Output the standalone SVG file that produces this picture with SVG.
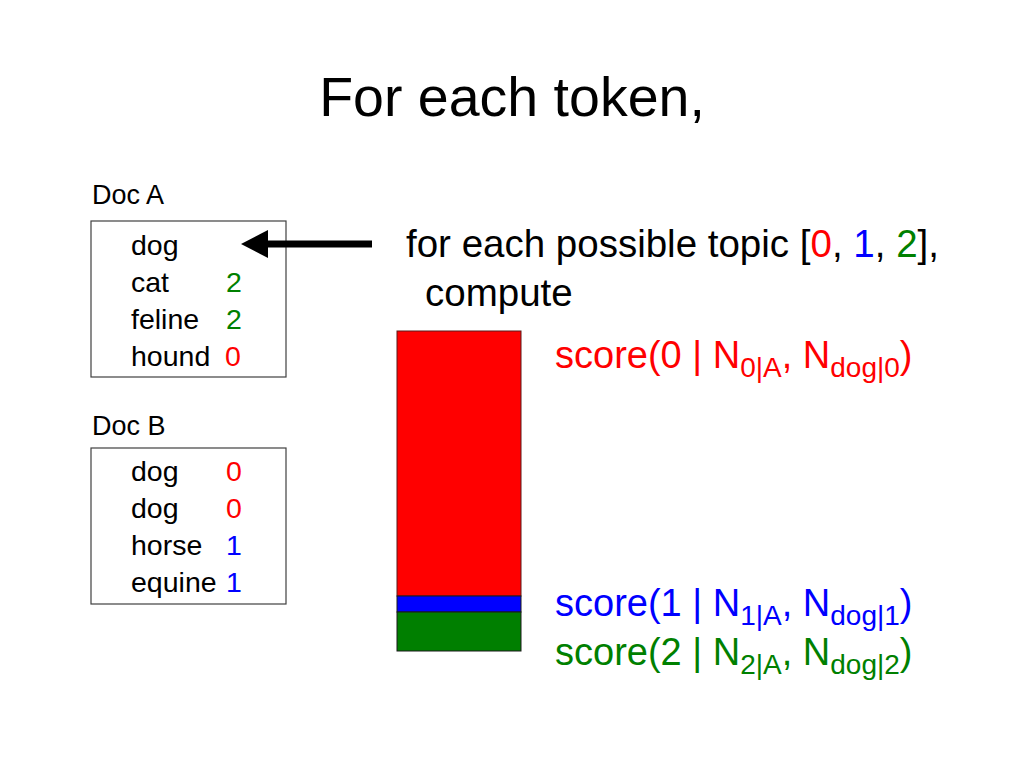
<svg xmlns="http://www.w3.org/2000/svg" width="1024" height="768" viewBox="0 0 1024 768">
<style>
text{font-family:"Liberation Sans",Arial,sans-serif;fill:#000}
.t{font-size:55.5px}
.lbl{font-size:27px}
.w{font-size:28.5px}
.big{font-size:38.5px}
.sc{font-size:38px}
.sub{font-size:28px}
.r{fill:#FF0000}.b{fill:#0000FF}.g{fill:#008000}
.box{fill:#fff;stroke:#404040;stroke-width:1.2}
</style>
<rect width="1024" height="768" fill="#fff"/>
<text class="t" x="512" y="116" text-anchor="middle">For each token,</text>

<g id="docA">
<text class="lbl" x="92" y="204">Doc A</text>
<rect class="box" x="91" y="221" width="195" height="156"/>
<text class="w" x="131" y="255">dog</text>
<text class="w" x="131" y="292">cat</text><text class="w g" x="226" y="292">2</text>
<text class="w" x="131" y="329">feline</text><text class="w g" x="226" y="329">2</text>
<text class="w" x="131" y="366">hound</text><text class="w r" x="225" y="366">0</text>
</g>

<g id="docB">
<text class="lbl" x="92" y="435">Doc B</text>
<rect class="box" x="91" y="448" width="195" height="156"/>
<text class="w" x="131" y="481">dog</text><text class="w r" x="226" y="481">0</text>
<text class="w" x="131" y="518">dog</text><text class="w r" x="226" y="518">0</text>
<text class="w" x="131" y="555">horse</text><text class="w b" x="226" y="555">1</text>
<text class="w" x="131" y="592">equine</text><text class="w b" x="226" y="592">1</text>
</g>

<g id="connectors">
<line x1="372" y1="244" x2="267" y2="244" stroke="#000" stroke-width="7"/>
<path d="M241,244 L268,230 L268,258 Z" fill="#000"/>
</g>

<g id="instruction">
<text class="big" x="406" y="257">for each possible topic [<tspan class="r">0</tspan>, <tspan class="b">1</tspan>, <tspan class="g">2</tspan>],</text>
<text class="big" x="425" y="306">compute</text>
</g>

<g id="bar">
<rect x="397" y="331" width="124" height="265" fill="#FF0000" stroke="#5a1a1a" stroke-width="1"/>
<rect x="397" y="596" width="124" height="16" fill="#0000FF" stroke="#1a1a1a" stroke-width="1"/>
<rect x="397" y="612" width="124" height="39" fill="#007F00" stroke="#1a1a1a" stroke-width="1"/>
</g>

<g id="scores">
<text class="sc r" x="555" y="368">score(0 | N<tspan class="sub" dy="9">0|A</tspan><tspan dy="-9">, N</tspan><tspan class="sub" dy="9">dog|0</tspan><tspan dy="-9">)</tspan></text>
<text class="sc b" x="555" y="616">score(1 | N<tspan class="sub" dy="9">1|A</tspan><tspan dy="-9">, N</tspan><tspan class="sub" dy="9">dog|1</tspan><tspan dy="-9">)</tspan></text>
<text class="sc g" x="555" y="665">score(2 | N<tspan class="sub" dy="9">2|A</tspan><tspan dy="-9">, N</tspan><tspan class="sub" dy="9">dog|2</tspan><tspan dy="-9">)</tspan></text>
</g>
</svg>
